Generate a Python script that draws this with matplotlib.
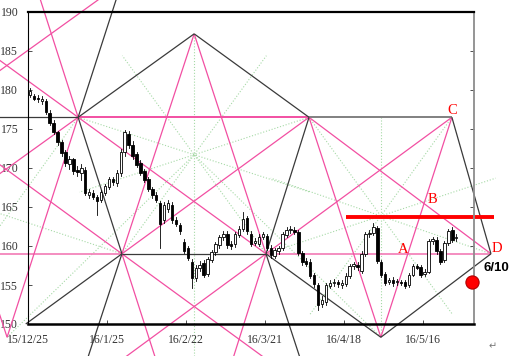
import matplotlib
matplotlib.use('Agg')
import matplotlib.pyplot as plt

# ---------------- candle data (daily, 15/12/25 .. 16/5/26) ----------------
opens = [179.3, 179.2, 179.0, 178.6, 178.6, 177.1, 175.8, 174.6, 173.3, 172.0,
         170.5, 171.1, 169.8, 169.3, 169.8, 166.5, 166.8, 166.3, 165.9, 166.8,
         167.6, 168.6, 168.1, 169.3, 172.0, 174.4, 173.0, 171.8, 170.6, 169.6,
         168.6, 167.3, 166.6, 165.5, 163.3, 164.8, 165.3, 163.3, 162.7, 160.5,
         159.7, 158.0, 155.9, 157.2, 157.8, 156.4, 158.2, 159.2, 160.1, 161.2,
         161.6, 160.3, 160.2, 161.4, 162.2, 163.6, 161.6, 160.4, 160.3, 161.2,
         161.3, 159.8, 158.7, 159.3, 159.7, 161.4, 162.0, 162.1, 161.8, 159.1,
         158.1, 158.0, 156.3, 155.0, 152.6, 152.8, 154.9, 155.2, 155.4, 155.0,
         155.1, 156.2, 157.4, 157.6, 156.8, 159.0, 161.5, 161.7, 162.3, 157.9,
         156.4, 155.4, 155.7, 155.4, 155.4, 155.4, 155.0, 156.3, 157.4, 157.3,
         156.4, 156.7, 160.6, 160.8, 159.3, 158.2, 160.4, 162.0, 161.0]
highs = [180.2, 179.5, 179.3, 179.2, 178.8, 177.4, 176.1, 174.8, 173.6, 172.3,
         171.6, 171.3, 170.2, 170.5, 170.1, 167.3, 167.2, 166.6, 167.2, 168.0,
         168.9, 168.9, 169.8, 172.4, 174.9, 174.7, 173.4, 172.1, 171.0, 169.9,
         168.9, 167.6, 166.9, 165.8, 165.6, 165.9, 165.6, 163.7, 163.0, 160.9,
         160.0, 158.3, 157.6, 158.1, 158.2, 158.6, 159.5, 160.5, 161.4, 161.9,
         161.9, 160.7, 161.8, 162.5, 164.4, 163.9, 161.9, 161.0, 161.5, 161.8,
         161.6, 160.1, 159.8, 160.0, 161.8, 162.4, 162.5, 162.4, 162.0, 159.4,
         158.4, 158.3, 156.6, 155.3, 153.6, 155.3, 155.7, 155.8, 155.7, 155.6,
         156.5, 157.7, 158.0, 157.9, 159.3, 161.8, 162.1, 163.0, 162.6, 158.2,
         156.7, 155.9, 156.0, 155.8, 155.7, 155.7, 156.6, 157.7, 157.7, 157.6,
         157.0, 160.9, 161.2, 161.1, 159.6, 160.7, 162.2, 162.4, 161.5]
lows = [179.1, 178.7, 178.5, 178.2, 176.9, 175.5, 174.3, 173.0, 171.5, 170.2,
        169.9, 169.2, 169.0, 168.4, 166.5, 166.1, 166.0, 164.0, 165.7, 166.5,
        167.3, 167.8, 167.7, 169.0, 171.6, 172.6, 171.2, 170.1, 169.1, 168.2,
        167.0, 166.2, 165.6, 159.8, 162.9, 164.4, 162.9, 162.5, 161.6, 159.1,
        158.2, 154.6, 155.5, 156.8, 156.0, 156.2, 157.9, 158.9, 159.8, 160.8,
        159.8, 159.6, 159.9, 161.1, 161.9, 161.6, 160.0, 160.1, 160.0, 160.9,
        159.5, 158.5, 158.4, 159.0, 159.5, 161.1, 161.7, 161.5, 158.8, 157.6,
        157.4, 155.9, 154.8, 151.8, 152.2, 152.5, 154.6, 154.9, 154.8, 154.6,
        154.9, 155.9, 157.1, 156.9, 156.5, 158.7, 161.1, 161.4, 157.8, 156.0,
        155.0, 155.1, 154.9, 155.0, 155.0, 154.6, 154.8, 156.1, 157.0, 156.0,
        156.1, 156.5, 160.3, 159.0, 157.7, 158.0, 160.1, 160.5, 160.6]
closes = [179.9, 178.9, 178.8, 178.9, 177.2, 175.8, 174.6, 173.3, 171.9, 170.6,
          171.2, 169.6, 169.5, 170.0, 166.8, 166.9, 166.3, 165.8, 166.9, 167.7,
          168.6, 168.2, 169.4, 172.0, 174.6, 173.0, 171.6, 170.4, 169.4, 168.5,
          167.3, 166.5, 165.9, 162.8, 165.3, 165.5, 163.3, 162.8, 161.9, 159.4,
          158.5, 155.9, 157.2, 157.6, 156.3, 158.3, 159.2, 160.2, 161.1, 161.6,
          160.1, 160.0, 161.5, 162.2, 163.5, 161.9, 160.3, 160.6, 161.2, 161.5,
          159.8, 158.8, 159.5, 159.7, 161.5, 162.1, 162.2, 161.8, 159.1, 157.9,
          157.7, 156.2, 155.1, 152.4, 153.1, 155.0, 155.3, 155.4, 155.1, 155.3,
          156.2, 157.4, 157.7, 157.3, 159.0, 161.5, 161.7, 162.4, 158.1, 156.3,
          155.3, 155.6, 155.2, 155.5, 155.3, 154.9, 156.3, 157.4, 157.2, 156.3,
          156.7, 160.6, 160.9, 159.3, 158.0, 160.4, 161.9, 160.8, 161.2]

tick_pos = [0, 20, 40, 60, 80, 100]
tick_labels = ['15/12/25', '16/1/25', '16/2/22', '16/3/21', '16/4/18', '16/5/16']

# ---------------- construction nodes (bar index / price) ----------------
lvl_a, lvl_b, lvl_c, lvl_d = 187.2, 176.5, 159.0, 148.3
z_top, z_bot = 171.7, 163.85          # centres of the fans
a_x = [42.1]
b_x = [-23.6, 12.7, 71.2, 107.4]
c_x = [-34.7, 23.8, 60.3, 117.3]
d_x = [-5.3, 89.4]

resist_level, resist_from, resist_to = 163.7, 80.6, 118.0
target_x, target_y = 112.5, 155.4

PINK = '#f24fa2'
DARK = '#3a3a3a'
GREEN = '#a6d9a6'

fig = plt.figure(figsize=(5.15, 3.56), dpi=100)
ax = fig.add_axes([28 / 515, 32 / 356, 446 / 515, 312 / 356])
ax.set_xlim(0, 113)
ax.set_ylim(150, 190)

P2 = (a_x[0], lvl_a)
P0, P1, P3, C = [(x, lvl_b) for x in b_x]
CM, Q1, Q2, D = [(x, lvl_c) for x in c_x]
BL, V = [(x, lvl_d) for x in d_x]

TOP, BOT, LEFT = 194.0, 144.0, -12.0


def at_y(p, q, y):
    return (p[0] + (q[0] - p[0]) * (y - p[1]) / (q[1] - p[1]), y)


def at_x(p, q, x):
    return (x, p[1] + (q[1] - p[1]) * (x - p[0]) / (q[0] - p[0]))


def seg(p, q, color, lw=0.9, ls='-', z=2):
    ax.plot([p[0], q[0]], [p[1], q[1]], color=color, lw=lw, ls=ls,
            clip_on=False, zorder=z, solid_capstyle='butt')


# green dotted fans
zt = (P2[0], z_top)
zv = (V[0], z_bot)
zb = (BL[0], z_bot)
for n in [P1, P3, Q1, Q2]:
    seg(n, (2 * zt[0] - n[0], 2 * zt[1] - n[1]), GREEN, 0.8, ':', 1)
for n in [Q2, D, P3, C]:
    seg(n, (2 * zv[0] - n[0], 2 * zv[1] - n[1]), GREEN, 0.8, ':', 1)
for n in [Q1, P1]:
    seg(n, (2 * zb[0] - n[0], 2 * zb[1] - n[1]), GREEN, 0.8, ':', 1)
seg(P2, (P2[0], BOT), GREEN, 0.8, ':', 1)
seg((V[0], lvl_b), V, GREEN, 0.8, ':', 1)
seg(BL, zt, GREEN, 0.8, ':', 1)
seg(V, zt, GREEN, 0.8, ':', 1)

# pink lines
seg(P1, P3, PINK, 1.4)
seg((LEFT, lvl_c), Q1, '#f27ab5', 1.2)
seg(Q2, D, '#f27ab5', 1.2)
seg(P2, Q1, PINK); seg(P2, Q2, PINK)
seg(BL, P1, PINK); seg(BL, P0, PINK)
seg(V, P3, PINK); seg(V, C, PINK)
seg(P1, at_y(Q1, P1, TOP), PINK)
seg(Q1, at_y(P1, Q1, BOT), PINK)
seg(Q2, at_y(P3, Q2, BOT), PINK)
seg(P1, at_x(P2, P1, LEFT), PINK)
seg(P3, D, PINK)
seg(P1, Q2, PINK); seg(P1, at_x(Q2, P1, LEFT), PINK)
seg(P3, Q1, PINK)
seg(P0, Q1, PINK); seg(Q1, at_y(P0, Q1, BOT), PINK)
seg(C, Q2, PINK); seg(Q2, at_y(C, Q2, BOT), PINK)
seg(P0, at_y(P0, (P0[0] + P2[0] - P1[0], lvl_a), TOP), PINK)

# dark lines
seg((LEFT, lvl_b), P1, DARK)
seg(P1, P2, DARK); seg(P2, P3, DARK)
seg(P3, C, '#808080', 1.4)
seg(C, D, DARK)
seg(P1, Q1, DARK); seg(P3, Q2, DARK)
seg(P1, at_y(BL, P1, TOP), DARK)
seg(Q1, at_y(P2, Q1, BOT), DARK)
seg(Q2, at_y(P2, Q2, BOT), DARK)
seg(Q1, Q2, DARK)
seg(Q2, V, DARK); seg(V, D, DARK)
seg(Q1, at_y(P3, Q1, 150.0), DARK)

# candles
for i, (o, h, l, c) in enumerate(zip(opens, highs, lows, closes)):
    x = i + 0.5
    ax.plot([x, x], [l, h], color='black', lw=0.6, zorder=3)
    body = max(abs(c - o), 0.12)
    ax.bar(x, body, bottom=min(o, c), width=0.62,
           color='white' if c >= o else 'black', edgecolor='black',
           linewidth=0.6, zorder=4)

# resistance line, target
ax.plot([resist_from, resist_to], [resist_level, resist_level], color='#ff0000',
        lw=2.8, clip_on=False, zorder=5, solid_capstyle='butt')
ax.plot([target_x], [target_y], 'o', ms=9.5, color='#ff0000', mec='#b00000',
        mew=0.8, clip_on=False, zorder=6)
ax.text(target_x + 3.0, target_y + 1.8, '6/10', fontsize=9.5, fontweight='bold',
        family='Liberation Sans', va='center', ha='left', clip_on=False, zorder=6)

for lab, lx, ly in [('A', 95.0, 159.6), ('B', 102.6, 166.0),
                    ('C', 107.4, 177.4), ('D', 118.8, 159.7)]:
    ax.text(lx, ly, lab, color='#ff0000', fontsize=10.5, family='Liberation Serif',
            ha='center', va='center', clip_on=False, zorder=6)

# axes styling
ax.set_yticks(range(150, 191, 5))
ax.set_xticks(tick_pos)
ax.set_xticklabels(tick_labels)
ax.tick_params(axis='both', direction='in', length=3, width=0.6,
               labelsize=8.5, colors='#333333')
ax.tick_params(axis='y', right=True, pad=7)
ax.tick_params(axis='x', pad=7)
for t in ax.get_xticklabels() + ax.get_yticklabels():
    t.set_family('Liberation Serif')
ax.spines['top'].set_linewidth(1.6)
ax.spines['bottom'].set_linewidth(1.8)
ax.spines['left'].set_linewidth(0.8)
ax.spines['right'].set_linewidth(1.3)
ax.spines['right'].set_color('#8c8c8c')
for s in ax.spines.values():
    s.set_zorder(5)

fig.text(493 / 515, 1 - 346 / 356, '\u21b5', fontsize=7, color='#777777',
         ha='center', va='center')

fig.savefig('out.png', dpi=100)
